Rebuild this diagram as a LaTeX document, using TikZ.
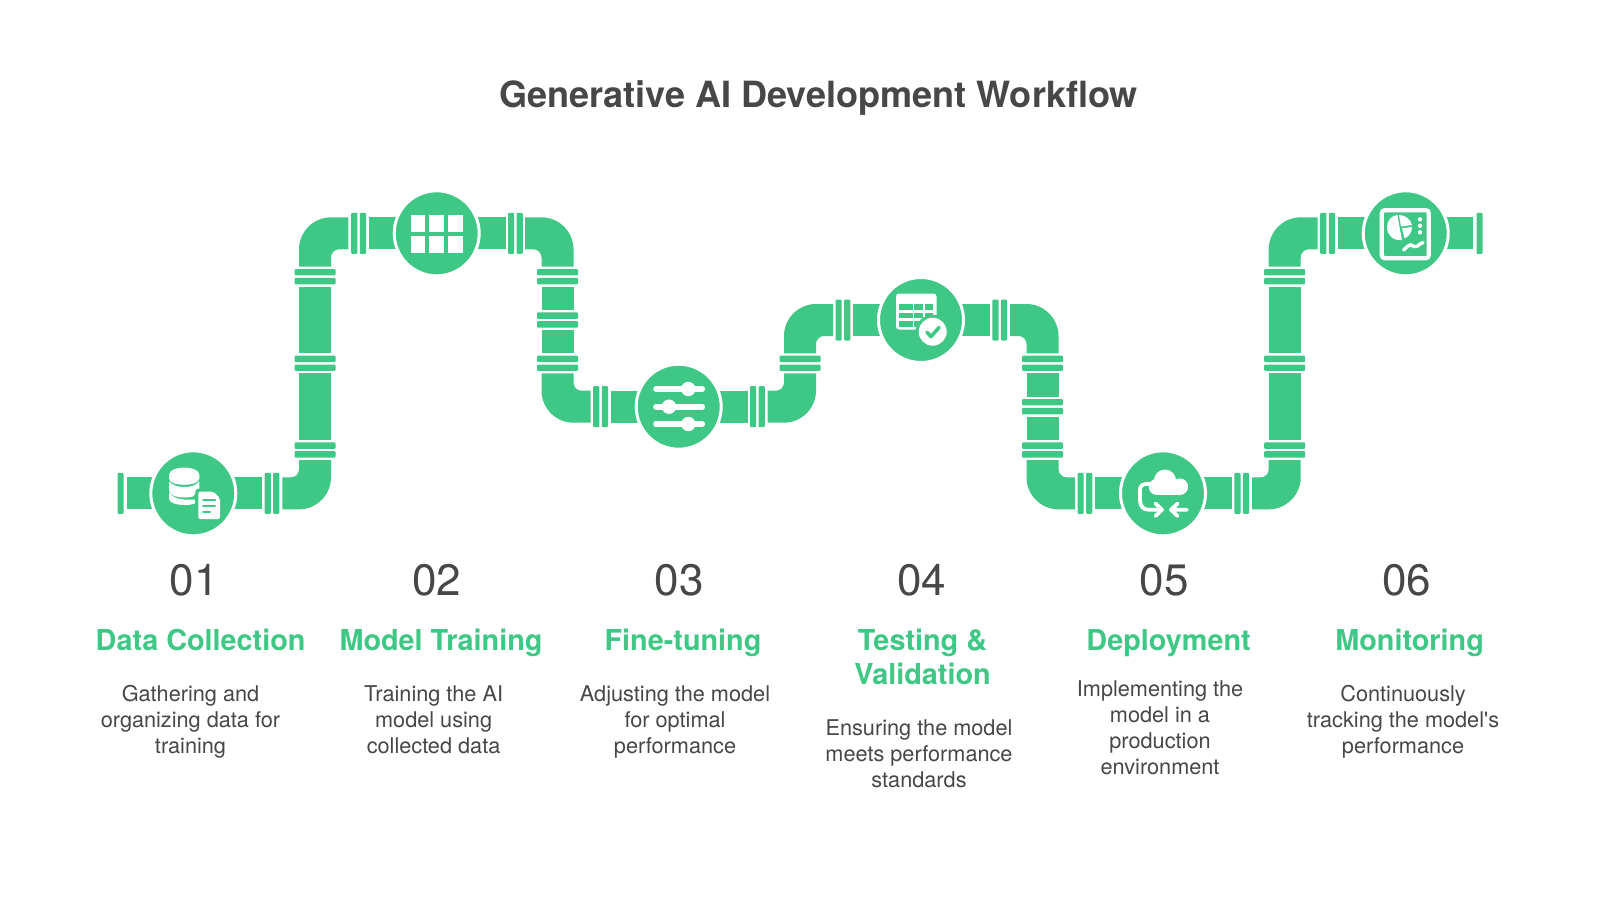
\documentclass[tikz,border=0pt]{standalone}
\usepackage{fontspec}
\setmainfont{TeX Gyre Heros}
\definecolor{pipegreen}{HTML}{3EC785}
\definecolor{inkgrey}{HTML}{474747}
\tikzset{
  pipe/.style={fill=pipegreen},
  flange/.style={fill=pipegreen,rounded corners=1pt},
  hub/.style={circle,fill=pipegreen,draw=white,line width=3pt,minimum size=85pt,inner sep=0pt},
  titletext/.style={font=\fontsize{36.1}{42}\selectfont\bfseries,text=inkgrey,anchor=base,inner sep=0pt},
  numtext/.style={font=\fontsize{44}{50}\selectfont,text=inkgrey,anchor=base,inner sep=0pt},
  headtext/.style={font=\fontsize{28.8}{34}\selectfont\bfseries,text=pipegreen,anchor=north,align=center,inner sep=0pt},
  desctext/.style={font=\fontsize{21.7}{26}\selectfont,text=inkgrey,anchor=north,align=center,inner sep=0pt},
  iconw/.style={fill=white},
  iconl/.style={draw=white,line cap=round,line join=round},
}
% elbow: horizontal end a, horizontal centre Y, vertical centre X, vertical end b
\newcommand\elbow[4]{%
  \pgfmathsetmacro\sx{(#3>#1)?1:-1}%
  \pgfmathsetmacro\sy{(#4>#2)?1:-1}%
  \fill[pipe] (#1,#2-16*\sy) -- ({#3-16*\sx},#2-16*\sy)
    .. controls ({#3+1.6*\sx},#2-16*\sy) and ({#3+16*\sx},{#2-1.6*\sy}) .. ({#3+16*\sx},{#2+16*\sy})
    -- ({#3+16*\sx},#4) -- ({#3-16*\sx},#4) -- ({#3-16*\sx},{#2+24*\sy})
    .. controls ({#3-16*\sx},{#2+19.6*\sy}) and ({#3-19.6*\sx},{#2+16*\sy}) .. ({#3-24*\sx},{#2+16*\sy})
    -- (#1,{#2+16*\sy}) -- cycle;}
\newcommand\vrun[3]{\fill[pipe] ({#1-16},#2) rectangle ({#1+16},#3);}
\newcommand\vpair[2]{%
  \fill[flange] ({#1-20.5},{#2-7.6}) rectangle ({#1+20.5},{#2-1.2});
  \fill[flange] ({#1-20.5},{#2+1.2}) rectangle ({#1+20.5},{#2+7.6});}
\newcommand\hflange[3]{\fill[flange] ({#1},{#3-20.5}) rectangle ({#2},{#3+20.5});}
% stubs and flange pairs either side of a hub
\newcommand\leftpair[2]{%
  \fill[pipe] ({#1-68},{#2-16}) rectangle (#1,{#2+16});
  \hflange{#1-85.5}{#1-79.3}{#2}\hflange{#1-76.9}{#1-70.7}{#2}}
\newcommand\rightpair[2]{%
  \fill[pipe] (#1,{#2-16}) rectangle ({#1+69},{#2+16});
  \hflange{#1+71.3}{#1+77.5}{#2}\hflange{#1+79.9}{#1+86.1}{#2}}
\begin{document}
\begin{tikzpicture}[x=1pt,y=-1pt]
\useasboundingbox (0,0) rectangle (1600,900);
\fill[white] (0,0) rectangle (1600,900);
% ---- pipes
\fill[pipe] (126.7,477.3) rectangle (193.3,509.3);
\hflange{117.5}{123.5}{493.3}
\rightpair{193.3}{493.3}
\elbow{282.3}{493.33}{315}{460}
\vpair{315}{450}\vrun{315}{373.33}{440}\vpair{315}{363.33}\vrun{315}{286.67}{353.33}\vpair{315}{276.67}
\elbow{348.3}{233.33}{315}{266.67}
\leftpair{436.7}{233.33}\rightpair{436.7}{233.33}
\elbow{525.1}{233.33}{557.5}{266.67}
\vpair{557.5}{276.67}\vrun{557.5}{286.67}{310}\vpair{557.5}{320}\vrun{557.5}{330}{353.33}\vpair{557.5}{363.33}
\elbow{590.7}{406.67}{557.5}{373.33}
\leftpair{678.7}{406.67}\rightpair{678.7}{406.67}
\elbow{767.7}{406.67}{800}{373.33}
\vpair{800}{363.33}
\elbow{833}{320}{800}{353.33}
\leftpair{921}{320}\rightpair{921}{320}
\elbow{1010}{320}{1042.5}{353.33}
\vpair{1042.5}{363.33}\vrun{1042.5}{373.33}{396.67}\vpair{1042.5}{406.67}\vrun{1042.5}{416.67}{440}\vpair{1042.5}{450}
\elbow{1075}{493.33}{1042.5}{460}
\leftpair{1163}{493.33}\rightpair{1163}{493.33}
\elbow{1252}{493.33}{1284.7}{460}
\vpair{1284.7}{450}\vrun{1284.7}{373.33}{440}\vpair{1284.7}{363.33}\vrun{1284.7}{286.67}{353.33}\vpair{1284.7}{276.67}
\elbow{1317.7}{233.33}{1284.7}{266.67}
\leftpair{1405.7}{233.33}
\fill[pipe] (1405.7,217.33) rectangle (1473,249.33);
\hflange{1476.5}{1482.5}{233.33}
% ---- hubs
\node[hub] (h1) at (193.3,493.3) {};
\node[hub] (h2) at (436.7,233.3) {};
\node[hub] (h3) at (678.7,406.7) {};
\node[hub] (h4) at (921,320) {};
\node[hub] (h5) at (1163,493.3) {};
\node[hub] (h6) at (1405.7,233.3) {};
% ---- icon 1: database and document
\fill[iconw] (169,475) .. controls (169,470) and (177,467.5) .. (184.2,467.5) .. controls (191.5,467.5) and (199.3,470) .. (199.3,475)
  -- (199.3,478.5) .. controls (199.3,483) and (191,484.8) .. (184.2,484.8) .. controls (177,484.8) and (169,483) .. (169,478.5) -- cycle;
\fill[iconw] (169,481.5) .. controls (173,485.8) and (179,487) .. (184.2,487) .. controls (190,487) and (195.5,485.8) .. (199.3,481.5)
  -- (199.3,489.5) -- (197,489.5) -- (197,492) -- (193,496.5) .. controls (190,497.2) and (187,497.5) .. (184.2,497.5)
  .. controls (177,497.5) and (169,495.5) .. (169,490.5) -- cycle;
\fill[iconw] (169,492.8) .. controls (173,497.5) and (179,499.5) .. (184.2,499.5) -- (195,499.5) -- (195,503.4) .. controls (192,504.7) and (188,505) .. (184.2,505)
  .. controls (177,505) and (169,503) .. (169,498.5) -- cycle;
\fill[pipegreen,rounded corners=3pt] (195.3,488.7) rectangle (223,522);
\fill[white,rounded corners=2pt] (198.3,491.7) -- (213.5,491.7) -- (220,498.2) -- (220,519) -- (198.3,519) -- cycle;
\draw[pipegreen,line width=2.6pt,line cap=round] (203.3,500) -- (215,500) (203.3,506) -- (215,506) (203.3,512) -- (210,512);
% ---- icon 2: grid
\foreach \gx in {410.7,429.3,448}{\foreach \gy in {215,235.7}{\fill[iconw] (\gx,\gy) rectangle (\gx+14.6,\gy+16.9);}}
% ---- icon 3: sliders
\draw[iconl,line width=5.6pt] (656,389) -- (702.3,389) (656,406.7) -- (702.3,406.7) (656,424) -- (702.3,424);
\fill[iconw] (688.3,389) circle[radius=7.2] (669,406.7) circle[radius=7.2] (688.3,424) circle[radius=7.2];
% ---- icon 4: table and check
\fill[white,rounded corners=3pt] (896,293.5) rectangle (936.5,329.5);
\foreach \cxa/\cxb in {899.3/912.7,914.3/923.3,925/933.3}{\foreach \rya/\ryb in {304.3/310,312.7/318.3,321/326.7}{\fill[pipegreen] (\cxa,\rya) rectangle (\cxb,\ryb);}}
\fill[pipegreen] (932.7,331.7) circle[radius=17];
\fill[white] (932.7,331.7) circle[radius=14];
\draw[pipegreen,line width=3.6pt,line cap=round,line join=round] (926.9,332.3) -- (931,336.5) -- (939,327.5);
% ---- icon 5: cloud and arrows
\fill[white] (1165,480.5) circle[radius=11] (1179.8,486.7) circle[radius=8.3] (1156.9,486.9) circle[radius=8.1];
\fill[white] (1157,484) rectangle (1180,495);
\draw[iconl,line width=3.8pt] (1150,484) -- (1146,484) .. controls (1142,484) and (1140,486.5) .. (1140,490) -- (1140,500)
  .. controls (1140,506) and (1143,509.8) .. (1149,509.8) -- (1160,509.8);
\draw[iconl,line width=3.8pt] (1155.5,503.5) -- (1162,509.8) -- (1155.5,516);
\draw[iconl,line width=3.8pt] (1187,509.8) -- (1171,509.8) (1177.5,503.5) -- (1171,509.8) -- (1177.5,516);
% ---- icon 6: dashboard
\draw[white,line width=4.2pt,rounded corners=3pt] (1381.8,210.2) rectangle (1428.8,258.2);
\fill[iconw] (1399.5,227) -- (1402,240) .. controls (1393,241) and (1387,235) .. (1387,227) .. controls (1387,220) and (1392,215.5) .. (1397.5,214.8) -- cycle;
\fill[iconw] (1399,215) .. controls (1405,215) and (1410.5,219) .. (1412,225) -- (1401,226.5) -- cycle;
\fill[iconw] (1402,228.3) -- (1412,227) .. controls (1412,233) and (1408,237) .. (1404.5,238.5) -- cycle;
\fill[iconw] (1420,219.3) circle[radius=2.2] (1420,225.7) circle[radius=2.2] (1420,232.3) circle[radius=2.2];
\draw[iconl,line width=3.4pt] (1403.5,250) .. controls (1407,247) and (1409,244.5) .. (1411,245) .. controls (1413,245.5) and (1415,248) .. (1417,246.5) .. controls (1419,245) and (1420.5,243) .. (1423,242.5);
% ---- text
\node[titletext] (title) at (818.5,107) {Generative AI Development Workflow};
\node[numtext] (n1) at (194,595) {01};
\node[numtext] (n2) at (436.5,595) {02};
\node[numtext] (n3) at (679,595) {03};
\node[numtext] (n4) at (921.5,595) {04};
\node[numtext] (n5) at (1164,595) {05};
\node[numtext] (n6) at (1406.5,595) {06};
\node[headtext] (l1) at (200.6,626.2) {\strut Data Collection};
\node[headtext] (l2) at (441,626.2) {\strut Model Training};
\node[headtext] (l3) at (683,626.2) {\strut Fine-tuning};
\node[headtext] (l4) at (922.5,626.2) {\strut Testing \&\\Validation};
\node[headtext] (l5) at (1168.6,626.2) {\strut Deployment};
\node[headtext] (l6) at (1409.6,626.2) {\strut Monitoring};
\node[desctext] (d1) at (190.5,682.8) {\strut Gathering and\\organizing data for\\training};
\node[desctext] (d2) at (433.6,682.8) {\strut Training the AI\\model using\\collected data};
\node[desctext] (d3) at (675,682.8) {\strut Adjusting the model\\for optimal\\performance};
\node[desctext] (d4) at (919,716.8) {\strut Ensuring the model\\meets performance\\standards};
\node[desctext] (d5) at (1160,677.8) {\strut Implementing the\\model in a\\production\\environment};
\node[desctext] (d6) at (1403,682.8) {\strut Continuously\\tracking the model\XeTeXglyph\XeTeXcharglyph"27 s\\performance};
\end{tikzpicture}
\end{document}
